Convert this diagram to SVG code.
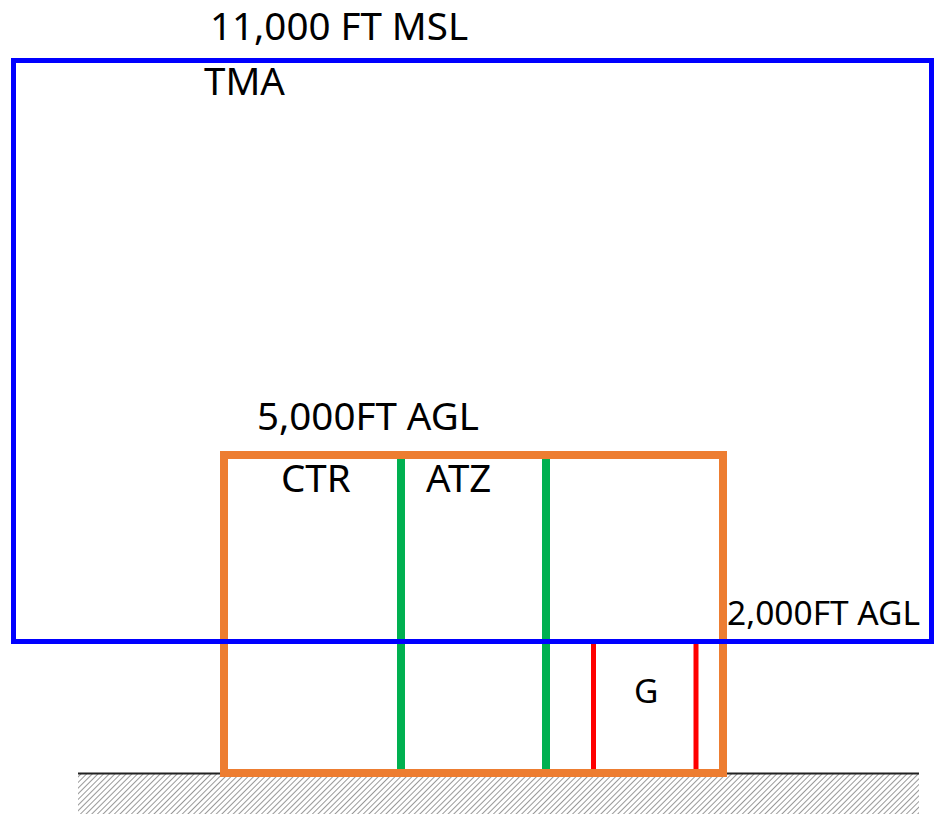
<svg xmlns="http://www.w3.org/2000/svg" width="942" height="817" viewBox="0 0 942 817">
<style>
text{font-family:"Noto Sans","Open Sans",sans-serif;fill:#000;}
.big{font-size:38.5px;}
.mid{font-size:33.5px;}
.tma{fill:none;stroke:#0000ff;stroke-width:5;}
.ctr{fill:none;stroke:#ed7d31;stroke-width:8;}
.atz{stroke:#00b050;stroke-width:8;}
.g{stroke:#ff0000;stroke-width:5;}
</style>
<defs>
<pattern id="hatch" width="4" height="4" patternUnits="userSpaceOnUse" patternTransform="rotate(45)">
<rect width="4" height="4" fill="#fff"/>
<line x1="0" y1="0" x2="0" y2="4" stroke="#7f7f7f" stroke-width="1.6"/>
</pattern>
</defs>
<g id="ground">
<rect x="78" y="774" width="841" height="40" fill="url(#hatch)"/>
<line x1="78" y1="773.5" x2="919" y2="773.5" stroke="#222" stroke-width="2"/>
</g>
<g id="atz">
<line class="atz" x1="401" y1="459" x2="401" y2="770"/>
<line class="atz" x1="546" y1="459" x2="546" y2="770"/>
<text class="big" x="426" y="492">ATZ</text>
</g>
<g id="class-g">
<line class="g" x1="593.5" y1="642" x2="593.5" y2="770"/>
<line class="g" x1="696" y1="642" x2="696" y2="770"/>
<text class="mid" x="634" y="703">G</text>
</g>
<g id="ctr">
<rect class="ctr" x="224" y="455" width="499" height="318"/>
<text class="big" x="281" y="492">CTR</text>
<text class="big" x="257" y="430">5,000FT AGL</text>
</g>
<g id="tma">
<rect class="tma" x="13.5" y="60.5" width="918" height="581"/>
<text class="big" x="204" y="95">TMA</text>
<text class="big" x="210" y="40">11,000 FT MSL</text>
<text class="mid" x="727" y="625">2,000FT AGL</text>
</g>
</svg>
